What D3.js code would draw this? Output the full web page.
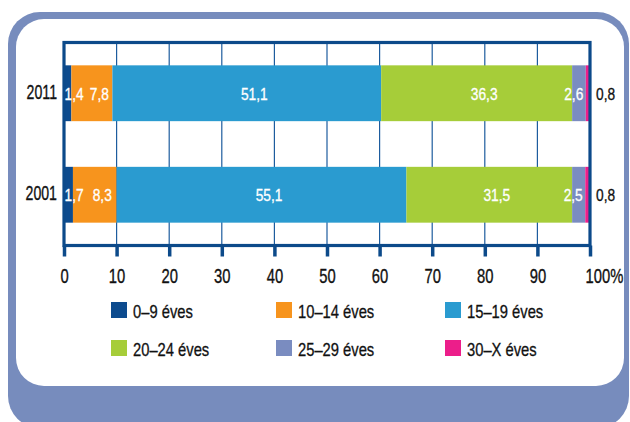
<!DOCTYPE html>
<html>
<head>
<meta charset="utf-8">
<script src="https://cdn.jsdelivr.net/npm/d3@7"></script>
<style>
    body { margin: 0; background: #fff; }
    svg text { font-family: "Liberation Sans", Arial, sans-serif; }
</style>
</head>
<body>
<svg id="chart" width="630" height="422"></svg>
<script>
// Age distribution, share in %, two census years.
const years = ['2011', '2001'];
const ageGroups = ['0–9 éves', '10–14 éves', '15–19 éves', '20–24 éves', '25–29 éves', '30–X éves'];
const values2011 = [1.4, 7.8, 51.1, 36.3, 2.6, 0.8];
const values2001 = [1.7, 8.3, 55.1, 31.5, 2.5, 0.8];
const xTicks = [0, 10, 20, 30, 40, 50, 60, 70, 80, 90, 100];
const xTickLabels = ['0', '10', '20', '30', '40', '50', '60', '70', '80', '90', '100%'];
const groupColors = ['#0d4b8e', '#f7941d', '#2a9bd0', '#a6cd39', '#7a8cc0', '#ec1e8a'];

const FRAME_BLUE = '#778cbd';
const NAVY = '#0c4a8a';
const INK = '#111';

// the original uses a condensed face; no narrow font installed, so squeeze horizontally
const place = (px, py, sx) => `translate(${px},${py}) scale(${sx},1)`;

const svg = d3.select('#chart');

// rounded card: blue base with white panel on top
svg.append('rect')
    .attr('x', 8).attr('y', 12).attr('width', 621).attr('height', 416)
    .attr('rx', 32).attr('fill', FRAME_BLUE);
svg.append('rect')
    .attr('x', 16).attr('y', 19).attr('width', 608).attr('height', 367)
    .attr('rx', 28).attr('fill', '#fff');

const rows = years.map((yr, i) => {
    const vals = i === 0 ? values2011 : values2001;
    const row = { year: yr };
    ageGroups.forEach((g, j) => { row[g] = vals[j]; });
    return row;
});

const plotTop = 42.5;
const plotBottom = 245.5;

const x = d3.scaleLinear().domain([0, 100]).range([64, 590]);
const y = d3.scaleBand().domain(years).range([plotTop, plotBottom])
    .paddingInner(0.45).paddingOuter(0.225);

const color = d3.scaleOrdinal().domain(ageGroups).range(groupColors);
const series = d3.stack().keys(ageGroups)(rows);

// vertical grid
svg.append('g')
    .selectAll('line')
    .data(xTicks.slice(1, -1))
    .join('line')
    .attr('x1', (d) => x(d)).attr('x2', (d) => x(d))
    .attr('y1', plotTop).attr('y2', plotBottom)
    .attr('stroke', '#1d5c9e').attr('stroke-width', 1.2);

// stacked bars
const layer = svg.append('g')
    .selectAll('g')
    .data(series)
    .join('g')
    .attr('fill', (d) => color(d.key));

layer.selectAll('rect')
    .data((d) => d)
    .join('rect')
    .attr('x', (d) => x(d[0]))
    .attr('y', (d) => y(d.data.year))
    .attr('width', (d) => x(d[1]) - x(d[0]))
    .attr('height', y.bandwidth());

// frame around plot, thick navy
svg.append('rect')
    .attr('x', x(0)).attr('y', plotTop)
    .attr('width', x(100) - x(0)).attr('height', plotBottom - plotTop)
    .attr('fill', 'none').attr('stroke', NAVY).attr('stroke-width', 3.2);

// bottom axis: chunky ticks below the frame
const xAxis = d3.axisBottom(x)
    .tickValues(xTicks)
    .tickFormat((d, i) => xTickLabels[i])
    .tickSize(11)
    .tickPadding(12);

const axisG = svg.append('g')
    .attr('transform', `translate(0,${plotBottom})`)
    .call(xAxis);
axisG.select('.domain').remove();
axisG.selectAll('.tick line').attr('stroke', NAVY).attr('stroke-width', 3.5);
axisG.selectAll('.tick text')
    .attr('fill', INK)
    .attr('stroke', INK).attr('stroke-width', 0.35)
    .attr('font-size', 20)
    .attr('y', null)
    .attr('dy', null)
    .attr('transform', place(0, 37, 0.74));
// "100%": the number sits on the tick, the % sign hangs to the right
axisG.selectAll('.tick text')
    .filter((d) => d === 100)
    .attr('text-anchor', 'start')
    .attr('transform', place(-5, 37, 0.74));

// year labels
svg.append('g')
    .selectAll('text')
    .data(years)
    .join('text')
    .attr('transform', (d) => place(57, y(d) + y.bandwidth() / 2 + 5.5, 0.69))
    .attr('text-anchor', 'end')
    .attr('font-size', 20.5)
    .attr('fill', INK)
    .attr('stroke', INK).attr('stroke-width', 0.35)
    .text((d) => d);

// value labels
const fmt = (v) => String(v).replace('.', ',');
const labelData = [];
series.forEach((s, j) => {
    s.forEach((d) => {
        labelData.push({ j, x0: d[0], x1: d[1], year: d.data.year, v: d.data[s.key] });
    });
});
const last = ageGroups.length - 1;

function labelX(d) {
    if (d.j === 0) return x(d.x0) + 0.5;
    if (d.j === last) return x(100) + 6;
    if (d.j === last - 1) return x(d.x1) - 2.5;
    return (x(d.x0) + x(d.x1)) / 2 + 7.5;
}

svg.append('g')
    .selectAll('text')
    .data(labelData)
    .join('text')
    .attr('font-size', 16)
    .attr('transform', (d) => place(labelX(d), y(d.year) + y.bandwidth() / 2 + 6.5, 0.86))
    .attr('fill', (d) => (d.j === last ? INK : '#fff'))
    .attr('stroke', (d) => (d.j === last ? INK : '#fff'))
    .attr('stroke-width', 0.3)
    .attr('text-anchor', (d) => {
        if (d.j === 0 || d.j === last) return 'start';
        if (d.j === last - 1) return 'end';
        return 'middle';
    })
    .text((d) => fmt(d.v));

// legend, 3 columns x 2 rows
const legendCols = [111, 276, 445];
const legendRows = [302, 340];

const legend = svg.append('g')
    .selectAll('g')
    .data(ageGroups)
    .join('g')
    .attr('transform', (d, i) => `translate(${legendCols[i % 3]},${legendRows[Math.floor(i / 3)]})`);

legend.append('rect')
    .attr('width', 16).attr('height', 16)
    .attr('fill', (d) => color(d));

legend.append('text')
    .attr('transform', place(22, 16, 0.82))
    .attr('font-size', 18)
    .attr('fill', INK)
    .attr('stroke', INK).attr('stroke-width', 0.3)
    .text((d) => d);
</script>
</body>
</html>
